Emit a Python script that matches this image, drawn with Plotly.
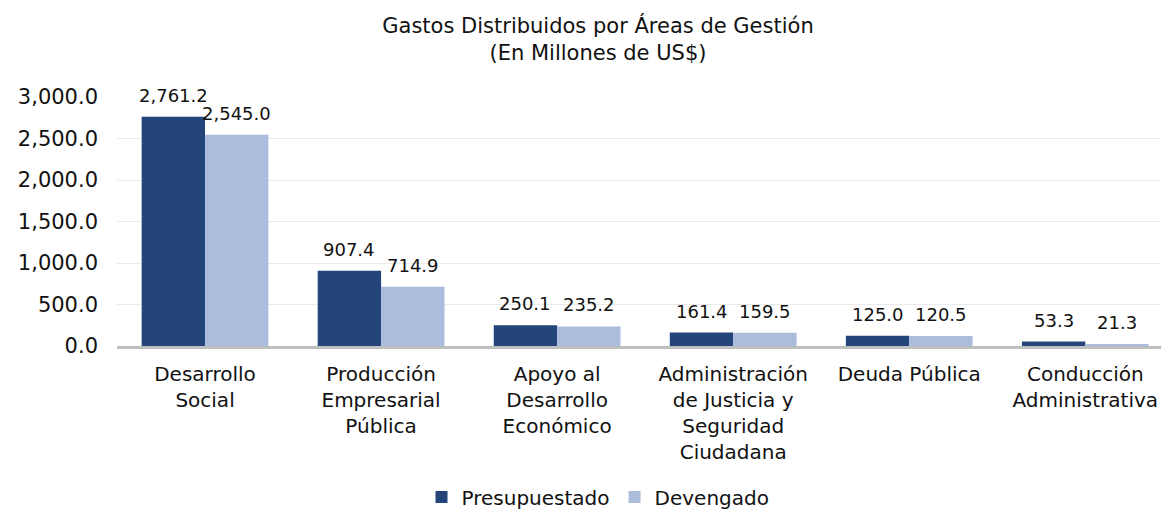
import plotly.graph_objects as go

categories = ["Desarrollo<br>Social", "Producción<br>Empresarial<br>Pública",
              "Apoyo al<br>Desarrollo<br>Económico",
              "Administración<br>de Justicia y<br>Seguridad<br>Ciudadana",
              "Deuda Pública", "Conducción<br>Administrativa"]
presupuestado = [2761.2, 907.4, 250.1, 161.4, 125.0, 53.3]
devengado = [2545.0, 714.9, 235.2, 159.5, 120.5, 21.3]
y_ticks = [0, 500, 1000, 1500, 2000, 2500, 3000]

FONT = "DejaVu Sans"
TXT = "#111111"
W, H = 1161, 509
L, R, T, B = 117, 0, 97, 163
XMAX = 5.43
BARGAP = 0.28

fig = go.Figure()
fig.add_trace(go.Bar(name="Presupuestado", x=categories, y=presupuestado,
                     marker=dict(color="#23457A", line=dict(width=0))))
fig.add_trace(go.Bar(name="Devengado", x=categories, y=devengado,
                     marker=dict(color="#ABBCDC", line=dict(width=0))))

# data labels via annotations, positioned on the bar centers
cat_px = (W - L - R) / (XMAX + 0.5)
half = cat_px * (1 - BARGAP) / 4
for series, sign in ((presupuestado, -1), (devengado, 1)):
    for c, v in zip(categories, series):
        fig.add_annotation(x=c, y=v, text=f"{v:,.1f}", showarrow=False,
                           xshift=sign * half, yshift=9, yanchor="bottom",
                           font=dict(size=18, family=FONT, color=TXT))

fig.update_layout(
    width=W, height=H,
    paper_bgcolor="white", plot_bgcolor="white",
    font=dict(family=FONT, size=19, color=TXT),
    barmode="group", bargap=BARGAP, bargroupgap=0,
    margin=dict(l=L, r=R, t=T, b=B),
    title=dict(text="Gastos Distribuidos por Áreas de Gestión<br>(En Millones de US$)",
               x=598/W, xref="container", xanchor="center",
               y=1-33/H, yref="container", yanchor="top",
               font=dict(size=21, family=FONT, color=TXT)),
    legend=dict(orientation="h", xref="container", yref="container",
                x=598/W, xanchor="center", y=1-497/H, yanchor="middle",
                font=dict(size=20, family=FONT, color=TXT),
                itemwidth=30, traceorder="normal"),
    showlegend=True,
)
fig.update_xaxes(range=[-0.5, XMAX], showline=True, linecolor="#BFBFBF", linewidth=3,
                 ticks="", ticklabelstandoff=8,
                 tickfont=dict(size=20, family=FONT, color=TXT))
fig.update_yaxes(range=[0, 3000], tickvals=y_ticks, tickformat=",.1f",
                 showgrid=True, gridcolor="#EAEAEA", gridwidth=1, zeroline=False,
                 ticks="", ticklabelstandoff=18,
                 tickfont=dict(size=21, family=FONT, color=TXT))

fig.write_html("out.html", config={"displayModeBar": False},
               post_script="document.body.style.margin='0';document.body.style.overflow='hidden';")
